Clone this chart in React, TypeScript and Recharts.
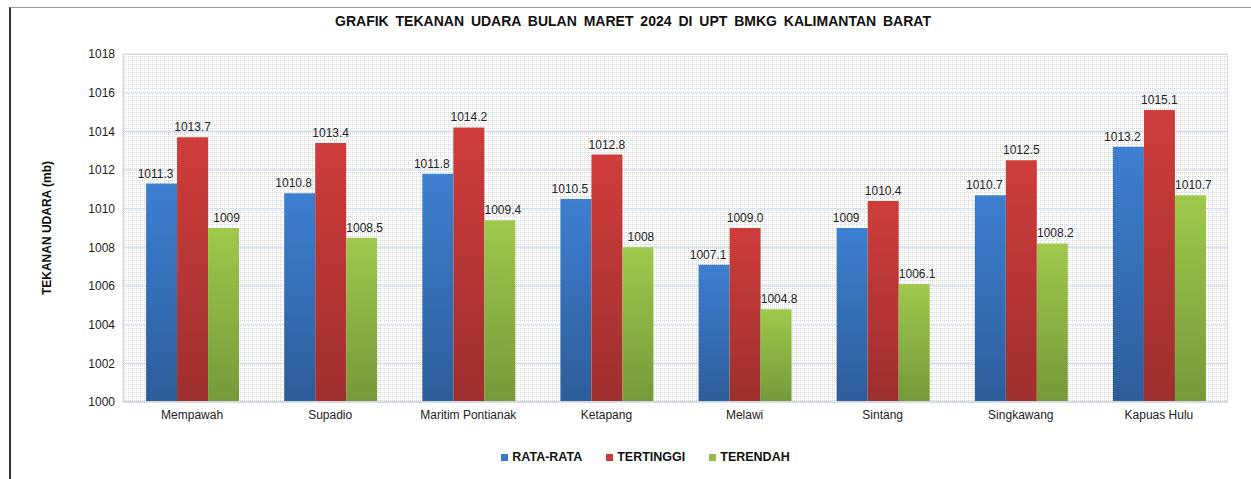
import React from 'react';
import { BarChart, Bar, XAxis, YAxis, CartesianGrid, Legend, LabelList } from 'recharts';

const categories = ['Mempawah', 'Supadio', 'Maritim Pontianak', 'Ketapang', 'Melawi', 'Sintang', 'Singkawang', 'Kapuas Hulu'];
const rataRata = [1011.3, 1010.8, 1011.8, 1010.5, 1007.1, 1009, 1010.7, 1013.2];
const tertinggi = [1013.7, 1013.4, 1014.2, 1012.8, 1009.0, 1010.4, 1012.5, 1015.1];
const terendah = [1009, 1008.5, 1009.4, 1008, 1004.8, 1006.1, 1008.2, 1010.7];
const rataLabels = ['1011.3', '1010.8', '1011.8', '1010.5', '1007.1', '1009', '1010.7', '1013.2'];
const tinggiLabels = ['1013.7', '1013.4', '1014.2', '1012.8', '1009.0', '1010.4', '1012.5', '1015.1'];
const rendahLabels = ['1009', '1008.5', '1009.4', '1008', '1004.8', '1006.1', '1008.2', '1010.7'];
const yTicks = [1000, 1002, 1004, 1006, 1008, 1010, 1012, 1014, 1016, 1018];

const seriesNames = ['RATA-RATA', 'TERTINGGI', 'TERENDAH'];
const seriesColors = ['#3b7bcb', '#c93a38', '#92bd45'];

const data = categories.map((c, i) => ({
  name: c,
  rata: rataRata[i],
  tinggi: tertinggi[i],
  rendah: terendah[i],
  rataLabel: rataLabels[i],
  tinggiLabel: tinggiLabels[i],
  rendahLabel: rendahLabels[i],
}));

const FONT = 'Liberation Sans, Arial, sans-serif';

const makeLabel = (dx: number) => (props: any) => {
  const { x, y, width, value } = props;
  return (
    <text x={x + width / 2 + dx} y={y - 6} textAnchor="middle" fontSize={12} fontFamily={FONT} fill="#222">
      {value}
    </text>
  );
};

const LegendContent = () => (
  <div style={{ display: 'flex', justifyContent: 'center', paddingLeft: 40, fontFamily: FONT, fontWeight: 'bold', fontSize: 12.5, color: '#111' }}>
    {seriesNames.map((n, i) => (
      <div key={n} style={{ display: 'flex', alignItems: 'center', marginRight: i < 2 ? 24 : 0 }}>
        <span style={{ display: 'inline-block', width: 7, height: 7, background: seriesColors[i], marginRight: 4 }} />
        <span>{n}</span>
      </div>
    ))}
  </div>
);

export default function App() {
  return (
    <div style={{ position: 'absolute', left: 0, top: 0, width: 1251, height: 479, background: '#fff', overflow: 'hidden' }}>
      <svg width={0} height={0} style={{ position: 'absolute' }}>
        <defs>
          <pattern id="dotgrid" width={4} height={4} patternUnits="userSpaceOnUse">
            <rect x={0} y={0} width={4} height={4} fill="#ffffff" />
            <rect x={0} y={0} width={1} height={1} fill="#d2d2d2" />
            <rect x={2} y={0} width={1} height={1} fill="#d2d2d2" />
            <rect x={0} y={2} width={1} height={1} fill="#d2d2d2" />
          </pattern>
          <linearGradient id="gBlue" x1="0" y1="0" x2="0" y2="1">
            <stop offset="0%" stopColor="#3d7fd0" />
            <stop offset="100%" stopColor="#2d5d9a" />
          </linearGradient>
          <linearGradient id="gRed" x1="0" y1="0" x2="0" y2="1">
            <stop offset="0%" stopColor="#cf3d3b" />
            <stop offset="100%" stopColor="#9d2f2e" />
          </linearGradient>
          <linearGradient id="gGreen" x1="0" y1="0" x2="0" y2="1">
            <stop offset="0%" stopColor="#9ec94c" />
            <stop offset="100%" stopColor="#76993a" />
          </linearGradient>
        </defs>
      </svg>
      <div style={{ position: 'absolute', left: 9, top: 7, width: 1250, height: 480, borderLeft: '2px solid #333', borderTop: '1.5px solid #999' }} />
      <div style={{ position: 'absolute', left: 0, top: 13, width: 1266, textAlign: 'center', fontFamily: FONT, fontWeight: 'bold', fontSize: 14, color: '#111', wordSpacing: 3 }}>
        GRAFIK TEKANAN UDARA BULAN MARET 2024 DI UPT BMKG KALIMANTAN BARAT
      </div>
      <div style={{ position: 'absolute', left: 0, top: 0 }}>
        <BarChart
          width={1251}
          height={479}
          data={data}
          margin={{ top: 54, right: 23, left: 53, bottom: 47 }}
          barCategoryGap="16.7%"
          barGap={0}
        >
          <CartesianGrid vertical={false} stroke="#d6e2f1" strokeWidth={1.5} fill="url(#dotgrid)" />
          <XAxis
            dataKey="name"
            tickLine={false}
            axisLine={{ stroke: '#c9d9ee', strokeWidth: 1.5 }}
            height={30}
            tick={{ fontSize: 12, fontFamily: FONT, fill: '#222' }}
            interval={0}
          />
          <YAxis
            width={70}
            domain={[1000, 1018]}
            ticks={yTicks}
            tickLine={false}
            axisLine={{ stroke: '#d4d4d4' }}
            tick={{ fontSize: 12, fontFamily: FONT, fill: '#222' }}
            label={(p: any) => (
              <text
                x={51}
                y={228}
                transform="rotate(-90 51 228)"
                textAnchor="middle"
                fontSize={12}
                fontWeight="bold"
                fontFamily={FONT}
                fill="#111"
              >
                TEKANAN UDARA (mb)
              </text>
            )}
          />
          <Legend
            verticalAlign="middle"
            align="center"
            layout="horizontal"
            wrapperStyle={{ left: 0, top: 450, width: 1251 }}
            content={<LegendContent />}
          />
          <Bar dataKey="rata" name="RATA-RATA" fill="url(#gBlue)" isAnimationActive={false}>
            <LabelList dataKey="rataLabel" content={makeLabel(-6)} />
          </Bar>
          <Bar dataKey="tinggi" name="TERTINGGI" fill="url(#gRed)" isAnimationActive={false}>
            <LabelList dataKey="tinggiLabel" content={makeLabel(0)} />
          </Bar>
          <Bar dataKey="rendah" name="TERENDAH" fill="url(#gGreen)" isAnimationActive={false}>
            <LabelList dataKey="rendahLabel" content={makeLabel(3)} />
          </Bar>
        </BarChart>
      </div>
      <div style={{ position: 'absolute', left: 123, top: 54, width: 1105, height: 348, border: '1px solid #d9d9d9', boxSizing: 'border-box', pointerEvents: 'none' }} />
    </div>
  );
}
